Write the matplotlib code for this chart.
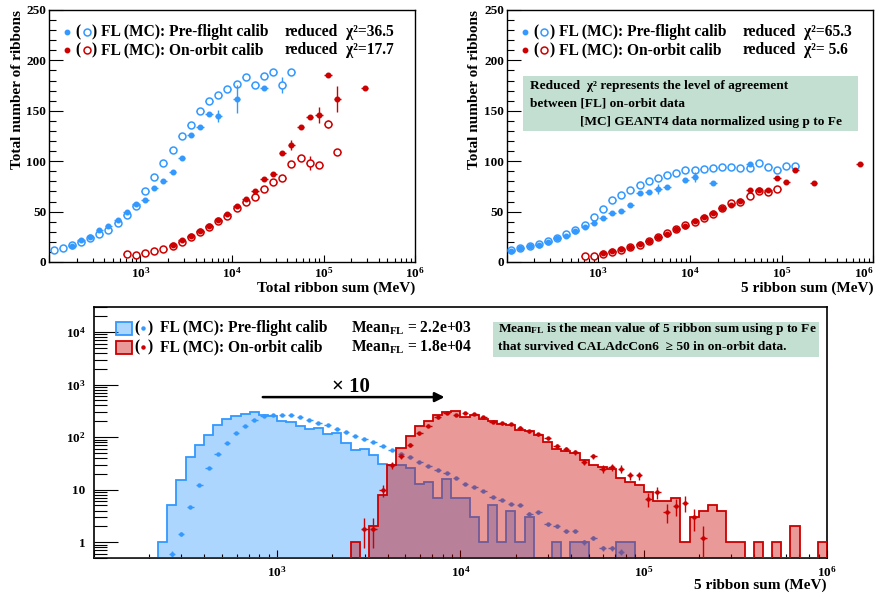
import numpy as np
import matplotlib
matplotlib.use("Agg")
import matplotlib.pyplot as plt
from matplotlib.ticker import FixedLocator, LogLocator, MultipleLocator, NullFormatter, FuncFormatter
from matplotlib.patches import Rectangle

plt.rcParams.update({
    "font.family": "Liberation Serif",
    "font.weight": "bold",
    "mathtext.fontset": "custom",
    "mathtext.rm": "Liberation Serif:bold",
    "mathtext.it": "Liberation Serif:italic:bold",
    "mathtext.bf": "Liberation Serif:bold",
})

BLUE = "#3399ff"
RED = "#cc0000"
BOX_GREEN = "#c2dfd1"
nan = np.nan

# ---------------------------------------------------------------------------
# Profiles: mean number of ribbons per energy bin (10 bins / decade, 1e2..1e6)
# ---------------------------------------------------------------------------
prof_edges = np.logspace(2, 6, 41)

# Total ribbon sum
total_pre_mc = [11.8, 14.2, 16.5, 20, 23.5, 27.6, 32.2, 39, 47, 55.8, 70, 84.3, 97.8, 111,
                124.6, 136.3, 150, 159.6, 165.7, 171.8, 176.7, 184, 175.5, 185, 188.6, 175.5, 188.6]
total_pre_fl = [nan, nan, 16, 21.8, 24.5, 31.4, 36, 41.3, 49.3, 58, 62, 73.6, 80.5, 89,
                103.3, 126, 133.7, 146.5, 144.7, nan, 161.6, nan, nan, 173]
total_orb_mc = [nan] * 8 + [7.7, 7.4, 8.5, 10.6, 12.9, 15.5, 20.3, 24.6, 29.8, 35.1, 40.4, 45.8,
                            53.4, 59.4, 64.8, 72, 79.2, 83.5, 97.5, 103.3, 98.3, 96, 137, 109.4]
total_orb_fl = [nan] * 13 + [16.5, 22, 25.5, 30.4, 35.8, 41.2, 47.3, 55.3, 62.6, 70.3, 82.8, 87.4,
                             107.8, 115.7, 134.4, 143.4, 145.7, 185.4, 161.6, nan, nan, 173.1]
total_err = {"pre_mc": {25: 8}, "pre_fl": {18: 6, 20: 14},
             "orb_mc": {28: 7, 30: 4}, "orb_fl": {26: 5, 29: 8, 31: 13}}
total_chi2 = ["36.5", "17.7"]

# 5 ribbon sum
five_pre_mc = [11.7, 13.4, 15.7, 17.7, 20.7, 23.4, 27.4, 31.7, 37, 44.4, 53, 61.4, 66.7, 71.7,
               76.7, 80, 83.4, 86, 88.4, 91, 91, 92.7, 93.4, 94.4, 94.4, 93.7, 93.4, 98.4, 94,
               91.7, 95.7, 95.7]
five_pre_fl = [11, 13.4, 15.4, 17, 20, 23.4, 26, 30.7, 35, 39, 44, 48.4, 50.7, 56.4, 68.4, 69,
               72.7, 74.4, nan, 81.7, 84.4, nan, 78.4, nan, nan, nan, 97.4]
five_orb_mc = [nan] * 8 + [6, 6, 8.4, 10, 12, 14.5, 17, 20.5, 24.5, 28.5, 33, 36.5, 40, 44, 48,
                           53.7, 58.4, 60, 65.7, 70.7, 69, 72.7]
five_orb_fl = [nan] * 10 + [9.4, 11, 12.7, 15, 17.4, 20.7, 24.4, 27.7, 32.4, 36, 40.4, 44.4, 49,
                            53.4, 56.7, 60.7, 71, 71.7, 71, 83.4, 79.4, 91.7, nan, 78.4,
                            nan, nan, nan, nan, 97.7]
five_err = {"pre_mc": {}, "pre_fl": {16: 5, 20: 5},
            "orb_mc": {27: 3}, "orb_fl": {}}
five_chi2 = ["65.3", " 5.6"]

# ---------------------------------------------------------------------------
# Distributions of the 5 ribbon sum (20 bins / decade, 1e2..1e6)
# ---------------------------------------------------------------------------
hist_edges = np.logspace(2, 6, 81)

pre_fl_counts = [0, 0, 0, 0, 0, 0, 0, 1, 5, 15, 41, 72, 110, 173, 218, 249, 271, 301, 260, 258,
                 206, 191, 163, 143, 151, 113, 118, 78, 58, 60, 46, 31, 30, 30, 26, 13, 14, 7, 16,
                 7, 7, 3, 1, 5, 1, 4, 1, 3, 0, 0, 1, 0, 1, 1, 0, 0, 0, 1, 1, 0,
                 0, 0, 0, 0, 0, 0, 0, 0, 0, 0, 0, 0, 0, 0, 0, 0, 0, 0, 0, 0]
orb_fl_counts = [0] * 28 + [1, 0, 2, 8, 29, 62, 104, 160, 206, 260, 296, 309, 242, 268, 222, 200,
                            181, 173, 135, 129, 112, 81, 60, 54, 50, 36, 30, 27, 25, 17, 14, 12,
                            9, 6, 6, 7, 1, 3, 4, 5, 4, 1, 1, 0, 1, 0, 1, 0, 2, 0, 0, 1]

pre_mc_first_bin = 8
pre_mc_points = [0.6, 1.46, 4.6, 12.1, 26, 48, 79, 120, 166, 212,
                 249, 260, 268, 260, 238, 209, 189, 168, 145, 123,
                 107, 94, 80, 67, 57, 48, 41, 33, 28, 24,
                 21, 16.5, 12.6, 11.1, 9.5, 7.1, 6.4, 5.4, 5.1, 3.5,
                 3.7, 2.2, 2.0, 1.6, 1.6, 1.0, 1.2, 0.76, 0.76, 0.66]
orb_mc_first_bin = 29
orb_mc_points = [1.8, 1.8, 9.7, 29, 43, 72, 118, 166, 238, 288,
                 268, 288, 271, 245, 197, 183, 178, 151, 129, 113,
                 95, 68, 60, 52, 34, 43, 25, 26.7, 25, 18.8,
                 18.8, 6.7, 9.1, 3.8, 4.8, 5.6, 3.0, 1.2]
# effective event weights (sets the size of the statistical error bars)
pre_mc_weight = 0.01
orb_mc_weight = 0.6

mean_pre = "2.2e+03"
mean_orb = "1.8e+04"

# ---------------------------------------------------------------------------
fig = plt.figure(figsize=(8.78, 5.99), dpi=100)
W, H = 878.0, 599.0
ax_tl = fig.add_axes([49 / W, 1 - 262 / H, 366 / W, 252 / H])
ax_tr = fig.add_axes([506.7 / W, 1 - 262 / H, 366.6 / W, 252 / H])
ax_b = fig.add_axes([94 / W, 1 - 558 / H, 733 / W, 251 / H])

TICK_FS = 9.5
TITLE_FS = 11
LEG_FS = 11.2
NOTE_FS = 9.6


def pow10_label(v, pos):
    e = int(round(np.log10(v)))
    return r"$10^{%d}$" % e


def style_frame(ax, lw):
    for s in ax.spines.values():
        s.set_linewidth(lw)
        s.set_color("black")


def draw_profile(ax, vals, color, filled, err_over):
    vals = np.asarray(vals, float)
    n = len(vals)
    lo, hi = prof_edges[:n], prof_edges[1:n + 1]
    xc = np.sqrt(lo * hi)
    half = 10 ** 0.04
    yerr = np.full(n, 1.2)
    for k, e in err_over.items():
        yerr[k] = e
    m = ~np.isnan(vals)
    ax.errorbar(xc[m], vals[m], xerr=[xc[m] - xc[m] / half, xc[m] * half - xc[m]],
                yerr=yerr[m], fmt="o", ms=3.2 if filled else 5.0,
                mfc=color if filled else "white", mec=color, mew=1.1,
                ecolor=color, elinewidth=1.0, capsize=0, zorder=4 if filled else 3)


def profile_panel(ax, pre_mc, pre_fl, orb_mc, orb_fl, errs, chi2, xlabel):
    ax.set_xscale("log")
    ax.set_xlim(1e2, 1e6)
    ax.set_ylim(0, 250)
    draw_profile(ax, pre_mc, BLUE, False, errs["pre_mc"])
    draw_profile(ax, orb_mc, RED, False, errs["orb_mc"])
    draw_profile(ax, pre_fl, BLUE, True, errs["pre_fl"])
    draw_profile(ax, orb_fl, RED, True, errs["orb_fl"])

    ax.xaxis.set_major_locator(FixedLocator([1e2, 1e3, 1e4, 1e5, 1e6]))
    ax.xaxis.set_major_formatter(FuncFormatter(lambda v, p: "" if v < 5e2 else pow10_label(v, p)))
    ax.xaxis.set_minor_locator(LogLocator(base=10, subs=np.arange(2, 10)))
    ax.xaxis.set_minor_formatter(NullFormatter())
    ax.yaxis.set_major_locator(MultipleLocator(50))
    ax.yaxis.set_minor_locator(MultipleLocator(10))
    ax.tick_params(axis="both", which="both", direction="in", top=False, right=False,
                   labelsize=TICK_FS, width=0.8)
    ax.tick_params(axis="y", which="major", length=10, pad=2)
    ax.tick_params(axis="y", which="minor", length=5)
    ax.tick_params(axis="x", which="major", length=5, pad=3)
    ax.tick_params(axis="x", which="minor", length=3)
    style_frame(ax, 1.0)

    ax.text(-0.087, 1.0, "Total number of ribbons", rotation=90, ha="center", va="top",
            fontsize=TITLE_FS, transform=ax.transAxes)
    ax.text(1.0, -0.105, xlabel, ha="right", va="center", fontsize=TITLE_FS,
            transform=ax.transAxes)

    rows = [(0.913, BLUE, "FL (MC): Pre-flight calib", chi2[0]),
            (0.840, RED, "FL (MC): On-orbit calib", chi2[1])]
    for y, col, lab, c2 in rows:
        ax.plot([0.049], [y], "o", ms=3.2, color=col, transform=ax.transAxes, clip_on=False)
        ax.text(0.072, y, "(", ha="left", va="center", fontsize=LEG_FS, transform=ax.transAxes)
        ax.plot([0.103], [y], "o", ms=5.0, mfc="white", mec=col, mew=1.1,
                transform=ax.transAxes, clip_on=False)
        ax.text(0.116, y, ")", ha="left", va="center", fontsize=LEG_FS, transform=ax.transAxes)
        ax.text(0.143, y, lab, ha="left", va="center", fontsize=LEG_FS, transform=ax.transAxes)
        ax.text(0.643, y, "reduced", ha="left", va="center", fontsize=LEG_FS,
                transform=ax.transAxes)
        ax.text(0.812, y, "\u03c7\u00b2=" + c2, ha="left", va="center", fontsize=LEG_FS,
                transform=ax.transAxes)


profile_panel(ax_tl, total_pre_mc, total_pre_fl, total_orb_mc, total_orb_fl, total_err,
              total_chi2, "Total ribbon sum (MeV)")
profile_panel(ax_tr, five_pre_mc, five_pre_fl, five_orb_mc, five_orb_fl, five_err,
              five_chi2, "5 ribbon sum (MeV)")

# keep the last decade label of the right panel inside the canvas
fig.canvas.draw()
for lab in ax_tr.get_xticklabels():
    if lab.get_text() == pow10_label(1e6, None):
        lab.set_horizontalalignment("right")
        lab.set_x(1e6)

# note box on the 5 ribbon sum profile
ax_tr.add_patch(Rectangle((0.0437, 0.520), 0.915, 0.218, transform=ax_tr.transAxes,
                          facecolor=BOX_GREEN, edgecolor="none", zorder=2))
ax_tr.text(0.063, 0.698, "Reduced  \u03c7\u00b2 represents the level of agreement", ha="left",
           va="center", fontsize=NOTE_FS, transform=ax_tr.transAxes, zorder=5)
ax_tr.text(0.063, 0.627, "between [FL] on-orbit data", ha="left", va="center",
           fontsize=NOTE_FS, transform=ax_tr.transAxes, zorder=5)
ax_tr.text(0.200, 0.556, "[MC] GEANT4 data normalized using p to Fe", ha="left", va="center",
           fontsize=NOTE_FS, transform=ax_tr.transAxes, zorder=5)

# ---------------------------------------------------------------------------
# Bottom: 5 ribbon sum distributions
# ---------------------------------------------------------------------------
ymin, ymax = 0.5, 3e4
ax_b.set_xscale("log")
ax_b.set_yscale("log")
ax_b.set_xlim(1e2, 1e6)
ax_b.set_ylim(ymin, ymax)

floor = ymin
pre_h = np.maximum(np.asarray(pre_fl_counts, float), floor)
orb_h = np.maximum(np.asarray(orb_fl_counts, float), floor)

ax_b.stairs(pre_h, hist_edges, baseline=floor, fill=True, facecolor=BLUE, alpha=0.4,
            edgecolor="none", zorder=1)
ax_b.stairs(pre_h, hist_edges, baseline=floor, fill=False, color=BLUE, lw=1.3, zorder=1.5)


def draw_points(ax, first, vals, weight, color, z):
    vals = np.asarray(vals, float)
    idx = np.arange(first, first + len(vals))
    lo, hi = hist_edges[idx], hist_edges[idx + 1]
    xc = np.sqrt(lo * hi)
    half = 10 ** 0.018
    yerr = np.sqrt(vals * weight)
    ax.errorbar(xc, vals, xerr=[xc - xc / half, xc * half - xc], yerr=yerr, fmt="o", ms=2.2,
                color=color, ecolor=color, elinewidth=1.0, capsize=0, zorder=z)


draw_points(ax_b, pre_mc_first_bin, pre_mc_points, pre_mc_weight, BLUE, 2)

ax_b.stairs(orb_h, hist_edges, baseline=floor, fill=True, facecolor=RED, alpha=0.4,
            edgecolor="none", zorder=3)
ax_b.stairs(orb_h, hist_edges, baseline=floor, fill=False, color=RED, lw=1.3, zorder=3.5)
draw_points(ax_b, orb_mc_first_bin, orb_mc_points, orb_mc_weight, RED, 4)

ax_b.xaxis.set_major_locator(FixedLocator([1e2, 1e3, 1e4, 1e5, 1e6]))
ax_b.xaxis.set_major_formatter(FuncFormatter(lambda v, p: "" if v < 5e2 else pow10_label(v, p)))
ax_b.xaxis.set_minor_locator(LogLocator(base=10, subs=np.arange(2, 10)))
ax_b.xaxis.set_minor_formatter(NullFormatter())
ax_b.yaxis.set_major_locator(FixedLocator([1, 10, 1e2, 1e3, 1e4]))
ax_b.yaxis.set_major_formatter(FuncFormatter(
    lambda v, p: {1: "1", 10: "10"}.get(int(round(v)), pow10_label(v, p))))
ax_b.yaxis.set_minor_locator(LogLocator(base=10, subs=np.arange(2, 10), numticks=20))
ax_b.yaxis.set_minor_formatter(NullFormatter())
ax_b.tick_params(axis="both", which="both", direction="in", top=False, right=False,
                 labelsize=TICK_FS, width=0.8)
ax_b.tick_params(axis="y", which="major", length=17, pad=6)
ax_b.tick_params(axis="y", which="minor", length=9)
ax_b.tick_params(axis="x", which="major", length=5.5, pad=5)
ax_b.tick_params(axis="x", which="minor", length=3)
style_frame(ax_b, 1.2)

ax_b.text(1.0, -0.108, "5 ribbon sum (MeV)", ha="right", va="center", fontsize=TITLE_FS,
          transform=ax_b.transAxes)

# legend
for (y0, y1), col in [((0.888, 0.940), BLUE), ((0.813, 0.865), RED)]:
    ax_b.add_patch(Rectangle((0.030, y0), 0.022, y1 - y0, transform=ax_b.transAxes,
                             facecolor=col, alpha=0.4, edgecolor="none", zorder=5))
    ax_b.add_patch(Rectangle((0.030, y0), 0.022, y1 - y0, transform=ax_b.transAxes,
                             facecolor="none", edgecolor=col, lw=1.3, zorder=5))
leg_rows = [(0.915, BLUE, "FL (MC): Pre-flight calib", mean_pre),
            (0.840, RED, "FL (MC): On-orbit calib", mean_orb)]
for y, col, lab, mean in leg_rows:
    ax_b.text(0.0546, y, "(", ha="left", va="center", fontsize=LEG_FS, transform=ax_b.transAxes)
    ax_b.plot([0.0664], [y], "o", ms=2.2, color=col, transform=ax_b.transAxes, clip_on=False)
    ax_b.text(0.0737, y, ")", ha="left", va="center", fontsize=LEG_FS, transform=ax_b.transAxes)
    ax_b.text(0.090, y, lab, ha="left", va="center", fontsize=LEG_FS, transform=ax_b.transAxes)
    ax_b.text(0.350, y, r"Mean$_{\mathrm{FL}}$ = " + mean, ha="left", va="center",
              fontsize=LEG_FS, transform=ax_b.transAxes)

ax_b.add_patch(Rectangle((0.544, 0.801), 0.445, 0.139, transform=ax_b.transAxes,
                         facecolor=BOX_GREEN, edgecolor="none", zorder=5))
ax_b.text(0.551, 0.912, r"Mean$_{\mathrm{FL}}$ is the mean value of 5 ribbon sum using p to Fe",
          ha="left", va="center", fontsize=NOTE_FS, transform=ax_b.transAxes, zorder=6)
ax_b.text(0.551, 0.841, "that survived CALAdcCon6  \u2265 50 in on-orbit data.", ha="left",
          va="center", fontsize=NOTE_FS, transform=ax_b.transAxes, zorder=6)

ax_b.annotate("", xy=(0.482, 0.641), xytext=(0.2265, 0.641), xycoords="axes fraction",
              arrowprops=dict(arrowstyle="-|>", color="black", lw=1.8, mutation_scale=14))
ax_b.text(0.3506, 0.683, "\u00d7 10", ha="center", va="center", fontsize=15,
          transform=ax_b.transAxes)

fig.savefig("out.png", dpi=100)
